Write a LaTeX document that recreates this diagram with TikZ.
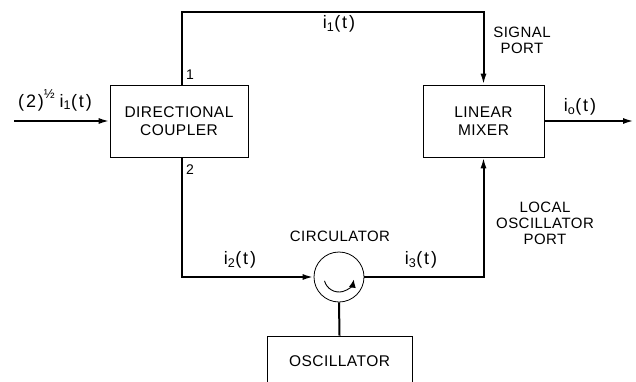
\documentclass[tikz,border=0pt]{standalone}
\usepackage{fontspec}
\setmainfont{Liberation Sans}
\usetikzlibrary{arrows.meta, positioning, calc}

\begin{document}
\begin{tikzpicture}[x=1pt, y=1pt, line join=miter,
  block/.style={rectangle, draw, line width=0.7pt, align=center, font=\fontsize{15.5}{17.5}\selectfont\addfontfeatures{LetterSpace=3}},
  portlabel/.style={align=center, font=\fontsize{15}{16}\selectfont\addfontfeatures{LetterSpace=3}},
  portnum/.style={font=\fontsize{14}{16}\selectfont},
  current/.style={font=\fontsize{18}{20}\selectfont\addfontfeatures{LetterSpace=10}},
  sig/.style={line width=2pt},
  sigarrow/.style={line width=2pt, -{Latex[length=11pt, width=6pt]}},
]
  \clip (0,0) rectangle (636,381);

  % blocks
  \node[block, minimum width=138pt, minimum height=72pt] (coupler) at (179,260) {DIRECTIONAL\\COUPLER};
  \node[block, minimum width=121pt, minimum height=72pt] (mixer) at (483.5,260) {LINEAR\\MIXER};
  \node[circle, draw, line width=0.8pt, minimum size=50pt] (circ) at (339,104) {};
  \node[block, minimum width=145pt, minimum height=50pt] (osc) at (339.5,20) {OSCILLATOR};

  \coordinate (in) at (14,260);
  \coordinate (out) at (634,260);
  \coordinate (top) at (483.5,369);

  % signal paths
  \draw[sigarrow] (in) -- (coupler.west);
  \draw[sigarrow] ([xshift=3pt]coupler.north) |- (top) -- (mixer.north);
  \draw[sigarrow] ([xshift=3pt]coupler.south) |- (circ.west);
  \draw[sigarrow] (circ.east) -| (mixer.south);
  \draw[sig] (circ.south) -- (osc.north);
  \draw[sigarrow] (mixer.east) -- (out);
  \draw[line width=0.9pt, -{Latex[length=8pt, width=7pt]}] ($(circ.center)+(195:15)$) arc[start angle=195, end angle=350, radius=15];

  % labels
  \node[current] (lin) at (55,281) {(2)\raisebox{9pt}{\fontsize{13}{13}\selectfont ½}\hspace{5pt}i\textsubscript{1}(t)};
  \node[current] (li1) at (339,357) {i\textsubscript{1}(t)};
  \node[current] (li2) at (240,121) {i\textsubscript{2}(t)};
  \node[current] (li3) at (421,121) {i\textsubscript{3}(t)};
  \node[current] (lio) at (580,274) {i\textsubscript{o}(t)};
  \node[portnum] (n1) at (190,306) {1};
  \node[portnum] (n2) at (190,211) {2};
  \node[portlabel] (lsig) at (522,341) {SIGNAL\\PORT};
  \node[portlabel] (llo) at (545,158) {LOCAL\\OSCILLATOR\\PORT};
  \node[portlabel] (lcirc) at (340,145) {CIRCULATOR};
\end{tikzpicture}
\end{document}
